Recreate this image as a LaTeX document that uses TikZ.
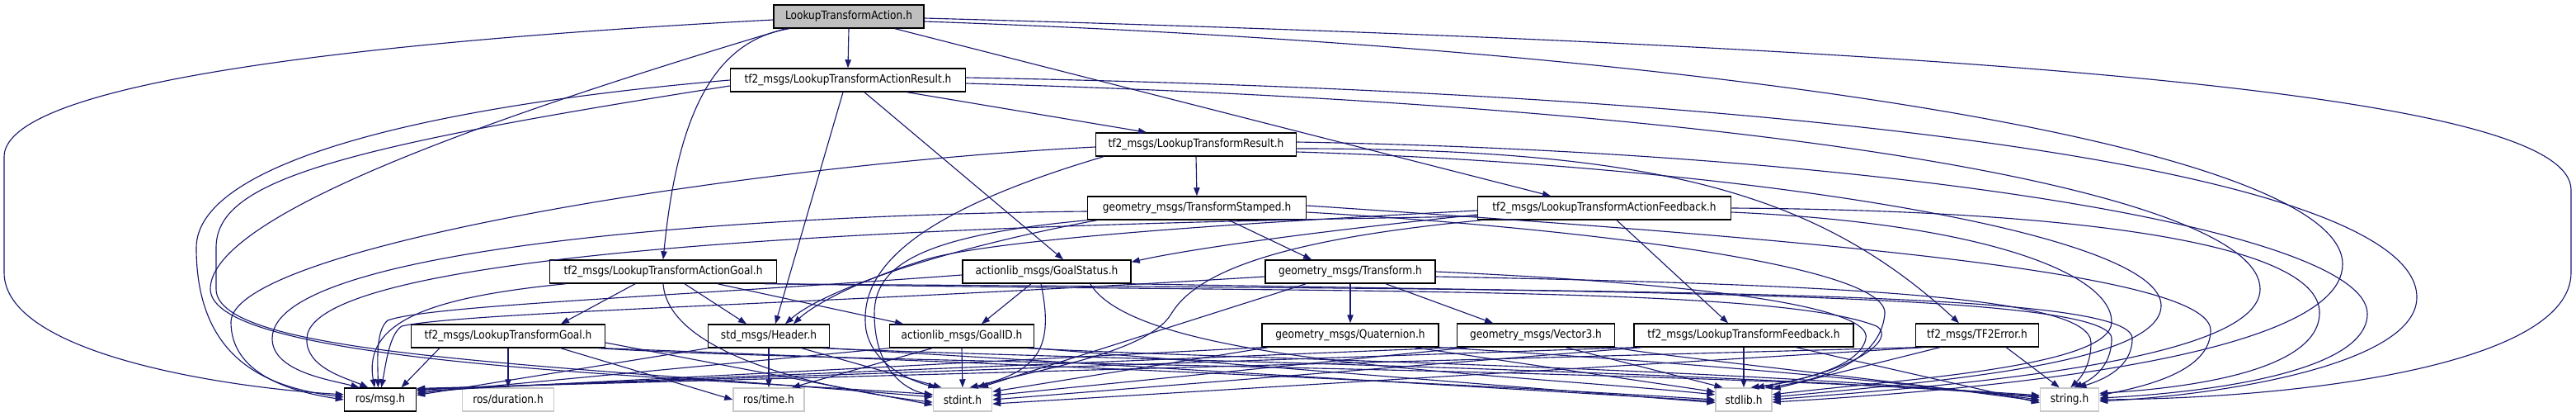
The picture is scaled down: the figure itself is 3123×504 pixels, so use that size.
\documentclass[tikz,border=0pt]{standalone}
\usepackage{fontspec}
\setmainfont{DejaVu Sans}[FakeStretch=0.87]
\usetikzlibrary{arrows.meta, calc}

\definecolor{edgeblue}{HTML}{191970}
\definecolor{maingray}{HTML}{BFBFBF}
\definecolor{sysgray}{HTML}{C8C8C8}
\newlength\pxu
\setlength\pxu{0.75pt}

\begin{document}
\begin{tikzpicture}[
    x=0.75pt, y=-0.75pt,
    file/.style={
        draw=black,
        fill=white,
        line width=1.1pt,
        inner sep=0pt,
        minimum height=28\pxu,
        font=\fontsize{10.5pt}{12pt}\selectfont
    },
    main file/.style={file, fill=maingray},
    sys file/.style={file, draw=sysgray},
    inc/.style={
        draw=edgeblue,
        line width=0.85pt,
        -{Triangle[length=7.5pt, width=5.5pt]}
    }
]
\useasboundingbox (0,0) rectangle (3123,504);

% Header files
\node[main file, minimum width=182\pxu] (act)       at (1029,20)  {LookupTransformAction.h};
\node[file, minimum width=285\pxu]      (actres)    at (1028,97)  {tf2\_msgs/LookupTransformActionResult.h};
\node[file, minimum width=243\pxu]      (res)       at (1450,175) {tf2\_msgs/LookupTransformResult.h};
\node[file, minimum width=265\pxu]      (tstamped)  at (1451,252) {geometry\_msgs/TransformStamped.h};
\node[file, minimum width=307\pxu]      (actfb)     at (1945,252) {tf2\_msgs/LookupTransformActionFeedback.h};
\node[file, minimum width=275\pxu]      (actgoal)   at (804,329)  {tf2\_msgs/LookupTransformActionGoal.h};
\node[file, minimum width=204\pxu]      (gstatus)   at (1269,329) {actionlib\_msgs/GoalStatus.h};
\node[file, minimum width=206\pxu]      (transform) at (1637,329) {geometry\_msgs/Transform.h};
\node[file, minimum width=235\pxu]      (goal)      at (616,407)  {tf2\_msgs/LookupTransformGoal.h};
\node[file, minimum width=147\pxu]      (header)    at (932,407)  {std\_msgs/Header.h};
\node[file, minimum width=175\pxu]      (goalid)    at (1166,407) {actionlib\_msgs/GoalID.h};
\node[file, minimum width=214\pxu]      (quat)      at (1637,406) {geometry\_msgs/Quaternion.h};
\node[file, minimum width=191\pxu]      (vec)       at (1862,406) {geometry\_msgs/Vector3.h};
\node[file, minimum width=266\pxu]      (feedback)  at (2114,406) {tf2\_msgs/LookupTransformFeedback.h};
\node[file, minimum width=149\pxu]      (tferr)     at (2397,406) {tf2\_msgs/TF2Error.h};

% Bottom row
\node[file, minimum width=87\pxu]      (msg)    at (461,484)  {ros/msg.h};
\node[sys file, minimum width=111\pxu] (dur)    at (616,484)  {ros/duration.h};
\node[sys file, minimum width=86\pxu]  (time)   at (932,484)  {ros/time.h};
\node[sys file, minimum width=71\pxu]  (stdint) at (1167,484) {stdint.h};
\node[sys file, minimum width=68\pxu]  (stdlib) at (2114,484) {stdlib.h};
\node[sys file, minimum width=71\pxu]  (string) at (2509,484) {string.h};

% Includes between message headers
\draw[inc] (act.south) -- (actres.north);
\draw[inc] ($(act.south)+(-72,0)$) .. controls (860,50) and (820,150) .. (actgoal.north);
\draw[inc] ($(act.south)+(56,0)$) -- ($(actfb.north)+(-65,0)$);
\draw[inc] ($(actres.south)+(72,0)$) -- ($(res.north)+(-60,0)$);
\draw[inc] ($(actres.south)+(20,0)$) -- ($(gstatus.north)+(20,0)$);
\draw[inc] ($(actres.south)+(-6,0)$) -- ($(header.north)+(8,0)$);
\draw[inc] (res.south) -- (tstamped.north);
\draw[inc] ($(res.east)+(0,5)$) .. controls (2000,180) and (2200,230) .. ($(tferr.north)+(-22,0)$);
\draw[inc] ($(tstamped.south)+(39,0)$) -- ($(transform.north)+(-47,0)$);
\draw[inc] ($(tstamped.south west)+(12,0)$) .. controls (1150,300) and (1000,350) .. ($(header.north)+(20,0)$);
\draw[inc] ($(actfb.west)+(0,3)$) .. controls (1500,270) and (1200,290) .. (1120,315) .. controls (1040,340) and (985,370) .. ($(header.north)+(30,0)$);
\draw[inc] ($(actfb.west)+(0,8)$) .. controls (1600,280) and (1450,300) .. ($(gstatus.north east)+(0,3)$);
\draw[inc] ($(actfb.south)+(15,0)$) -- ($(feedback.north)+(-19,0)$);
\draw[inc] ($(actgoal.south)+(-34,0)$) -- ($(goal.north)+(64,0)$);
\draw[inc] ($(actgoal.south)+(26,0)$) -- ($(header.north)+(-27,0)$);
\draw[inc] ($(actgoal.south)+(66,0)$) -- ($(goalid.north)+(-71,0)$);
\draw[inc] ($(gstatus.south)+(-19,0)$) -- ($(goalid.north)+(24,0)$);
\draw[inc] (transform.south) -- (quat.north);
\draw[inc] ($(transform.south)+(43,0)$) -- ($(vec.north)+(-52,0)$);
\draw[inc] (goal.south) -- (dur.north);
\draw[inc] ($(goal.south)+(64,0)$) -- (time.west);
\draw[inc] (header.south) -- (time.north);
\draw[inc] ($(goalid.south)+(-36,0)$) -- ($(time.north)+(28,0)$);

% ros/msg.h
\draw[inc] ($(act.west)+(0,4)$) .. controls (350,55) and (5,110) .. (5,190) -- (5,330) .. controls (5,430) and (280,470) .. (msg.172);
\draw[inc] (actres.west) .. controls (500,130) and (238,200) .. (238,300) .. controls (238,440) and (330,470) .. (msg.176);
\draw[inc] ($(res.west)+(0,3)$) .. controls (900,200) and (280,300) .. (280,390) .. controls (280,452) and (350,474) .. (msg.180);
\draw[inc] ($(tstamped.west)+(0,4)$) .. controls (900,260) and (330,300) .. (330,410) .. controls (330,450) and (400,460) .. (msg.150);
\draw[inc] ($(actfb.west)+(0,10)$) .. controls (1300,270) and (375,290) .. (372,410) .. controls (370,445) and (420,458) .. (msg.135);
\draw[inc] ($(actgoal.south west)+(20,0)$) .. controls (520,360) and (440,390) .. (msg.115);
\draw[inc] ($(gstatus.west)+(0,4)$) .. controls (800,360) and (520,370) .. (470,388) .. controls (455,400) and (458,440) .. (msg.100);
\draw[inc] ($(transform.west)+(0,6)$) .. controls (1000,368) and (560,378) .. (487,395) .. controls (472,405) and (468,440) .. (msg.85);
\draw[inc] ($(goal.south west)+(35,0)$) -- (msg.30);
\draw[inc] (header.south west) -- (msg.7);
\draw[inc] (goalid.south west) -- (msg.10);
\draw[inc] (quat.south west) -- (msg.13);
\draw[inc] (vec.south west) -- (msg.15);
\draw[inc] (feedback.south west) -- (msg.16);
\draw[inc] (tferr.south west) -- (msg.17);

% stdint.h
\draw[inc] ($(act.south west)+(15,0)$) .. controls (600,140) and (255,260) .. (255,350) .. controls (255,440) and (800,455) .. (stdint.170);
\draw[inc] ($(actres.west)+(0,7)$) .. controls (400,180) and (262,220) .. (262,300) -- (262,350) .. controls (262,430) and (650,440) .. (stdint.175);
\draw[inc] ($(res.south west)+(10,0)$) .. controls (1100,260) and (1040,330) .. (1050,400) .. controls (1058,440) and (1100,460) .. (stdint.155);
\draw[inc] (tstamped.south west) .. controls (1120,285) and (1060,320) .. (1060,380) .. controls (1060,440) and (1090,470) .. (stdint.172);
\draw[inc] ($(actfb.south west)+(5,0)$) .. controls (1550,290) and (1450,330) .. (1420,380) .. controls (1390,430) and (1240,450) .. (stdint.40);
\draw[inc] (actgoal.south) .. controls (810,430) and (1000,472) .. (stdint.185);
\draw[inc] ($(gstatus.south)+(-7,0)$) .. controls (1278,420) and (1260,450) .. (stdint.60);
\draw[inc] ($(transform.south west)+(50,0)$) -- (stdint.35);
\draw[inc] ($(goal.east)+(0,8)$) -- (stdint.190);
\draw[inc] ($(header.south)+(40,0)$) -- (stdint.150);
\draw[inc] (goalid.south) -- (stdint.north);
\draw[inc] ($(quat.south west)+(8,0)$) -- (stdint.15);
\draw[inc] ($(vec.south west)+(15,0)$) -- (stdint.8);
\draw[inc] ($(feedback.south west)+(10,0)$) -- (stdint.0);
\draw[inc] ($(tferr.south west)+(10,0)$) -- (stdint.-8);

% stdlib.h
\draw[inc] ($(act.east)+(0,6)$) .. controls (2100,60) and (2840,180) .. (2840,320) .. controls (2840,440) and (2350,475) .. (stdlib.-5);
\draw[inc] ($(actres.east)+(0,4)$) .. controls (2200,130) and (2740,240) .. (2740,350) .. controls (2740,440) and (2350,468) .. (stdlib.0);
\draw[inc] ($(res.east)+(0,9)$) .. controls (2100,200) and (2620,280) .. (2620,370) .. controls (2620,440) and (2350,462) .. (stdlib.5);
\draw[inc] ($(tstamped.east)+(0,5)$) .. controls (1900,275) and (2290,320) .. (2285,380) .. controls (2280,440) and (2200,462) .. (stdlib.30);
\draw[inc] ($(actfb.east)+(0,5)$) .. controls (2400,270) and (2560,330) .. (2560,390) .. controls (2560,445) and (2300,460) .. (stdlib.10);
\draw[inc] (actgoal.south east) .. controls (1600,355) and (2150,345) .. (2275,395) .. controls (2300,410) and (2250,450) .. (stdlib.45);
\draw[inc] ($(gstatus.south east)+(-50,0)$) .. controls (1380,440) and (1800,450) .. (stdlib.170);
\draw[inc] (transform.east) .. controls (2100,345) and (2270,375) .. (2262,410) .. controls (2255,445) and (2180,462) .. (stdlib.60);
\draw[inc] (goal.south east) .. controls (1200,440) and (1700,460) .. (stdlib.180);
\draw[inc] (header.south east) -- (stdlib.183);
\draw[inc] (goalid.south east) -- (stdlib.186);
\draw[inc] ($(quat.south east)+(-30,0)$) -- (stdlib.165);
\draw[inc] ($(vec.south east)+(-60,0)$) -- (stdlib.150);
\draw[inc] (feedback.south) -- (stdlib.north);
\draw[inc] ($(tferr.south west)+(30,0)$) -- (stdlib.20);

% string.h
\draw[inc] ($(act.east)+(0,2)$) .. controls (2500,60) and (3117,120) .. (3117,230) -- (3117,330) .. controls (3117,440) and (2800,482) .. (string.east);
\draw[inc] ($(actres.east)+(0,-3)$) .. controls (2300,115) and (2930,220) .. (2930,360) .. controls (2930,440) and (2700,478) .. (string.-3);
\draw[inc] ($(res.east)+(0,-3)$) .. controls (2300,185) and (2870,280) .. (2870,380) .. controls (2870,450) and (2680,475) .. (string.3);
\draw[inc] ($(tstamped.east)+(0,-3)$) .. controls (2200,290) and (2680,330) .. (2680,400) .. controls (2680,450) and (2600,468) .. (string.8);
\draw[inc] (actfb.east) .. controls (2550,255) and (2815,300) .. (2812,380) .. controls (2810,450) and (2650,470) .. (string.12);
\draw[inc] ($(actgoal.south east)+(-15,0)$) .. controls (2000,352) and (2585,350) .. (2585,410) .. controls (2585,445) and (2550,460) .. (string.55);
\draw[inc] (gstatus.south east) .. controls (2000,355) and (2560,355) .. (2560,410) .. controls (2560,445) and (2535,460) .. (string.70);
\draw[inc] ($(transform.east)+(0,6)$) .. controls (2250,345) and (2535,360) .. (2535,415) .. controls (2535,445) and (2520,460) .. (string.85);
\draw[inc] ($(goal.south east)+(-8,0)$) .. controls (1000,440) and (2000,445) .. (string.172);
\draw[inc] ($(header.south east)+(-8,0)$) .. controls (1300,435) and (2000,445) .. (string.174);
\draw[inc] ($(goalid.south east)+(-8,0)$) .. controls (1500,435) and (2100,445) .. (string.176);
\draw[inc] (quat.south east) .. controls (1900,430) and (2200,450) .. (string.180);
\draw[inc] (vec.south east) .. controls (2000,430) and (2250,455) .. (string.183);
\draw[inc] ($(feedback.south east)+(-70,0)$) -- (string.186);
\draw[inc] ($(tferr.south east)+(-40,0)$) -- (string.130);

\end{tikzpicture}
\end{document}
